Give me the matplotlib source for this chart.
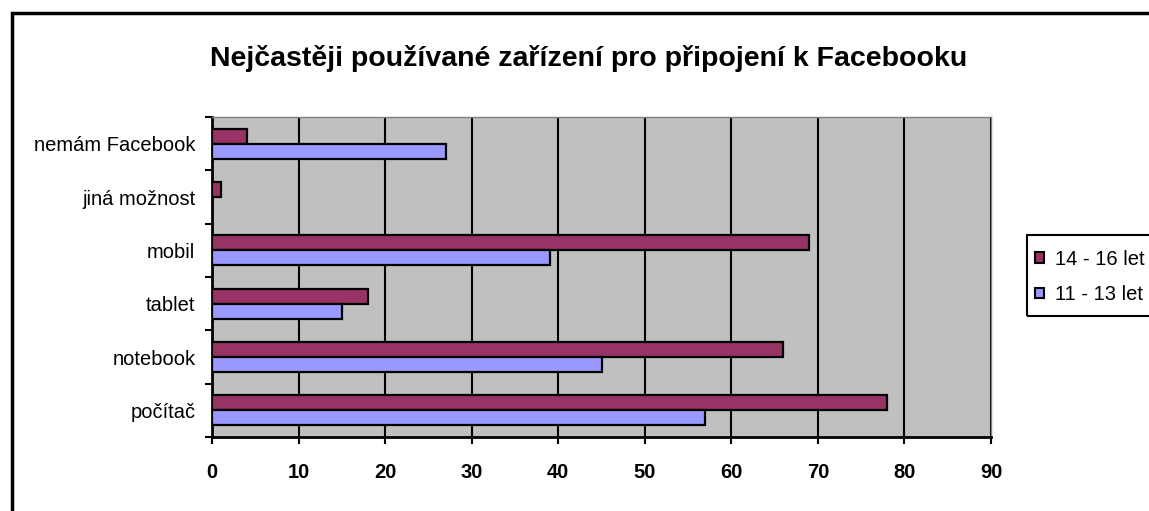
import numpy as np
import matplotlib
matplotlib.use("Agg")
import matplotlib.pyplot as plt
from matplotlib.patches import Rectangle

# data
categories = ["počítač", "notebook", "tablet", "mobil", "jiná možnost", "nemám Facebook"]
older = [78, 66, 18, 69, 1, 4]      # 14 - 16 let
younger = [57, 45, 15, 39, 0, 27]   # 11 - 13 let
series_names = ["14 - 16 let", "11 - 13 let"]
xticks = [0, 10, 20, 30, 40, 50, 60, 70, 80, 90]

plt.rcParams['font.family'] = ['Liberation Sans', 'DejaVu Sans']

fig = plt.figure(figsize=(11.49, 5.11), dpi=100)
ax = fig.add_axes([212/1149, 1 - 437/511, (991-212)/1149, (437-117)/511])
ax.set_facecolor('#C0C0C0')

y = np.arange(len(categories))
h = 0.28
ax.barh(y + h/2, older, height=h, color='#993366', edgecolor='black', linewidth=1.6,
        label=series_names[0], zorder=3)
ax.barh(y - h/2, younger, height=h, color='#9999FF', edgecolor='black', linewidth=1.6,
        label=series_names[1], zorder=3)

ax.set_xlim(0, 90)
ax.set_ylim(-0.5, len(categories) - 0.5)
ax.set_xticks(xticks)
ax.set_xticklabels([str(v) for v in xticks], fontweight='bold', fontsize=14.5)
ax.xaxis.grid(True, color='black', linewidth=1.5, zorder=1)
ax.set_axisbelow(True)
ax.tick_params(axis='x', direction='out', length=5, width=1.5, pad=14)

# category ticks between groups, labels in the middle
ax.set_yticks(np.arange(-0.5, len(categories), 1.0))
ax.set_yticklabels([])
ax.set_yticks(y, minor=True)
ax.set_yticklabels(categories, minor=True, fontsize=14.5)
ax.tick_params(axis='y', which='major', direction='out', length=5, width=1.5)
ax.tick_params(axis='y', which='minor', length=0, pad=12)

ax.spines['left'].set_linewidth(2)
ax.spines['bottom'].set_linewidth(2)
ax.spines['top'].set_color('#808080')
ax.spines['right'].set_color('#808080')
ax.spines['top'].set_linewidth(1)
ax.spines['right'].set_linewidth(1)

fig.text(589/1149, 1 - 58/511, "Nejčastěji používané zařízení pro připojení k Facebooku",
         ha='center', va='center', fontsize=20.5, fontweight='bold')

# legend entries without frame; the box is drawn separately (cut off at right edge)
leg = fig.legend(loc='upper left', bbox_to_anchor=(1026/1149, 1 - 241/511),
                 fontsize=14.5, frameon=False,
                 handlelength=0.45, handleheight=0.45, handletextpad=0.55,
                 borderpad=0.45, labelspacing=0.8, borderaxespad=0)
for p in leg.get_patches():
    p.set_linewidth(1.5)
fig.patches.append(Rectangle((1027/1149, 1 - 316/511), 0.2, 81/511,
                             transform=fig.transFigure, fill=False,
                             edgecolor='black', linewidth=1.5))

# outer chart border (cut off on right and bottom as in reference)
fig.patches.append(Rectangle((12/1149, -0.2), 1.2, 1.2 - 13/511,
                             transform=fig.transFigure, fill=False,
                             edgecolor='black', linewidth=2.5))

fig.savefig('out.png', dpi=100)
